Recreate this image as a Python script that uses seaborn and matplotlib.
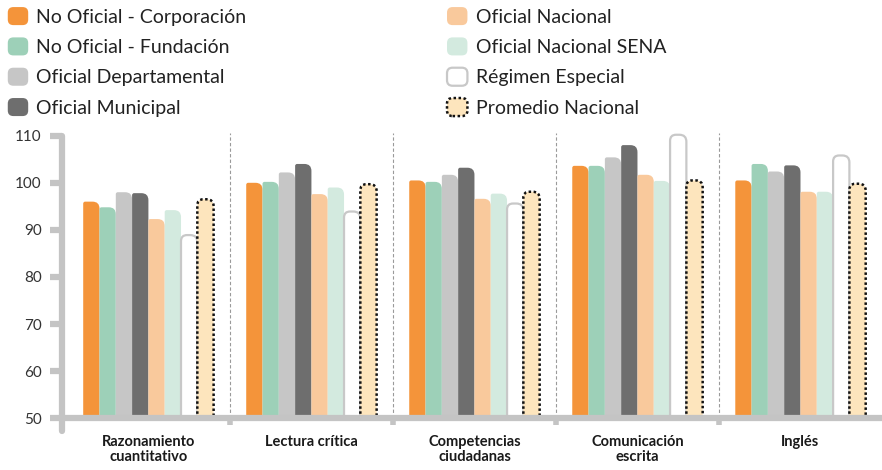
import numpy as np
import pandas as pd
import matplotlib
matplotlib.use('Agg')
import matplotlib.pyplot as plt
import matplotlib.patches as mpatches
from matplotlib.path import Path
from matplotlib.legend_handler import HandlerPatch
import seaborn as sns

# Datos
categorias = ['Razonamiento\ncuantitativo', 'Lectura crítica', 'Competencias\nciudadanas',
              'Comunicación\nescrita', 'Inglés']
sectores = ['No Oficial - Corporación', 'No Oficial - Fundación', 'Oficial Departamental',
            'Oficial Municipal', 'Oficial Nacional', 'Oficial Nacional SENA',
            'Régimen Especial', 'Promedio Nacional']
corporacion = [96.0, 100.0, 100.5, 103.6, 100.5]
fundacion = [94.8, 100.2, 100.2, 103.6, 104.0]
departamental = [98.0, 102.2, 101.7, 105.4, 102.4]
municipal = [97.8, 104.0, 103.2, 108.0, 103.7]
nacional = [92.3, 97.6, 96.6, 101.7, 98.1]
sena = [94.2, 99.0, 97.7, 100.4, 98.1]
regimen = [88.9, 93.9, 95.6, 110.2, 105.8]
promedio = [96.5, 99.7, 98.1, 100.5, 99.8]

series = [corporacion, fundacion, departamental, municipal, nacional, sena, regimen, promedio]
df = pd.DataFrame({
    'categoria': np.tile(categorias, len(sectores)),
    'sector': np.repeat(sectores, len(categorias)),
    'valor': np.concatenate(series),
})

colores = ['#f4943a', '#9dd0b8', '#c6c6c6', '#6e6e6e', '#f9c99c', '#d3eadf', '#ffffff', '#fde5bd']
bordes = ['none'] * 6 + ['#c8c8c8', '#111111']
grosor = [0] * 6 + [1.6, 1.8]
estilos = ['-'] * 7 + [(0, (1, 1))]
gris = '#c4c4c4'

sns.set_style('white')
plt.rcParams['font.family'] = ['Lato', 'DejaVu Sans']

fig = plt.figure(figsize=(8.82, 4.70), dpi=100)
ax = fig.add_axes([0.0703, 0.110, 0.9297, 0.6113])

sns.barplot(data=df, x='categoria', y='valor', hue='sector', order=categorias,
            hue_order=sectores, palette=colores, saturation=1, width=0.8,
            legend=False, ax=ax)

# barras con esquinas superiores redondeadas
px_x = 163.0
px_y = 4.71
bars = list(ax.patches)
for p in bars:
    x0 = p.get_x()
    w = p.get_width()
    top = p.get_height()
    xc = x0 + w / 2
    k = int(round((xc - round(xc) + 0.35) / 0.1))
    k = min(max(k, 0), 7)
    rr = 7 / px_x
    rl = (6 if k >= 6 else 2) / px_x
    ryr = 7 / px_y
    ryl = (6 if k >= 6 else 2) / px_y
    x1 = x0 + w
    verts = [(x0, 0), (x0, top - ryl), (x0, top), (x0 + rl, top),
             (x1 - rr, top), (x1, top), (x1, top - ryr), (x1, 0), (x0, 0)]
    codes = [Path.MOVETO, Path.LINETO, Path.CURVE3, Path.CURVE3,
             Path.LINETO, Path.CURVE3, Path.CURVE3, Path.LINETO, Path.CLOSEPOLY]
    patch = mpatches.PathPatch(Path(verts, codes), facecolor=colores[k],
                               edgecolor=bordes[k], lw=grosor[k], ls=estilos[k],
                               zorder=1.5)
    ax.add_patch(patch)
    p.remove()

ax.set_xlim(-0.53, 4.5)
ax.set_ylim(50, 111)
ax.set_yticks([50, 60, 70, 80, 90, 100, 110])
ax.set_xlabel('')
ax.set_ylabel('')

# separadores
ax.vlines([0.5, 1.5, 2.5, 3.5], 50, 110.5, colors='#9a9a9a', linestyles=(0, (3, 2)),
          lw=0.8, zorder=1)

for s in ['top', 'right']:
    ax.spines[s].set_visible(False)
for s in ['left', 'bottom']:
    ax.spines[s].set_color(gris)
    ax.spines[s].set_linewidth(4.5)
    ax.spines[s].set_capstyle('round')
ax.spines['left'].set_bounds(47.3, 110)

ax.tick_params(axis='y', length=8.6, width=4.5, color=gris, pad=6,
               labelsize=11, labelcolor='#333333', left=True)
ax.tick_params(axis='x', which='major', length=0, pad=12, labelsize=10.5,
               labelcolor='#1a1a1a')
ax.set_xticks([0.5, 1.5, 2.5, 3.5], minor=True)
ax.tick_params(axis='x', which='minor', length=5, width=4, color=gris, bottom=True)
for t in ax.get_xticklabels():
    t.set_fontweight('bold')
    t.set_linespacing(1.1)


def redondo(legend, orig_handle, xdescent, ydescent, width, height, fontsize):
    return mpatches.FancyBboxPatch((-xdescent, -ydescent), width, height,
                                   boxstyle='round,pad=0,rounding_size=4')


handles = [mpatches.Patch(facecolor=colores[i], edgecolor=bordes[i], lw=grosor[i],
                          ls=estilos[i], label=sectores[i]) for i in range(8)]
hmap = {h: HandlerPatch(patch_func=redondo) for h in handles}

for col, xa in [(0, 0.0), (1, 0.498)]:
    leg = fig.legend(handles=handles[col * 4:col * 4 + 4], loc='upper left',
                     bbox_to_anchor=(xa, 1.0015), frameon=False, fontsize=14,
                     handlelength=1.05, handleheight=1.05, handletextpad=0.42,
                     labelspacing=0.6, borderaxespad=0, handler_map=hmap)
    for t in leg.get_texts():
        t.set_color('#222222')

fig.savefig('out.png', dpi=100)
